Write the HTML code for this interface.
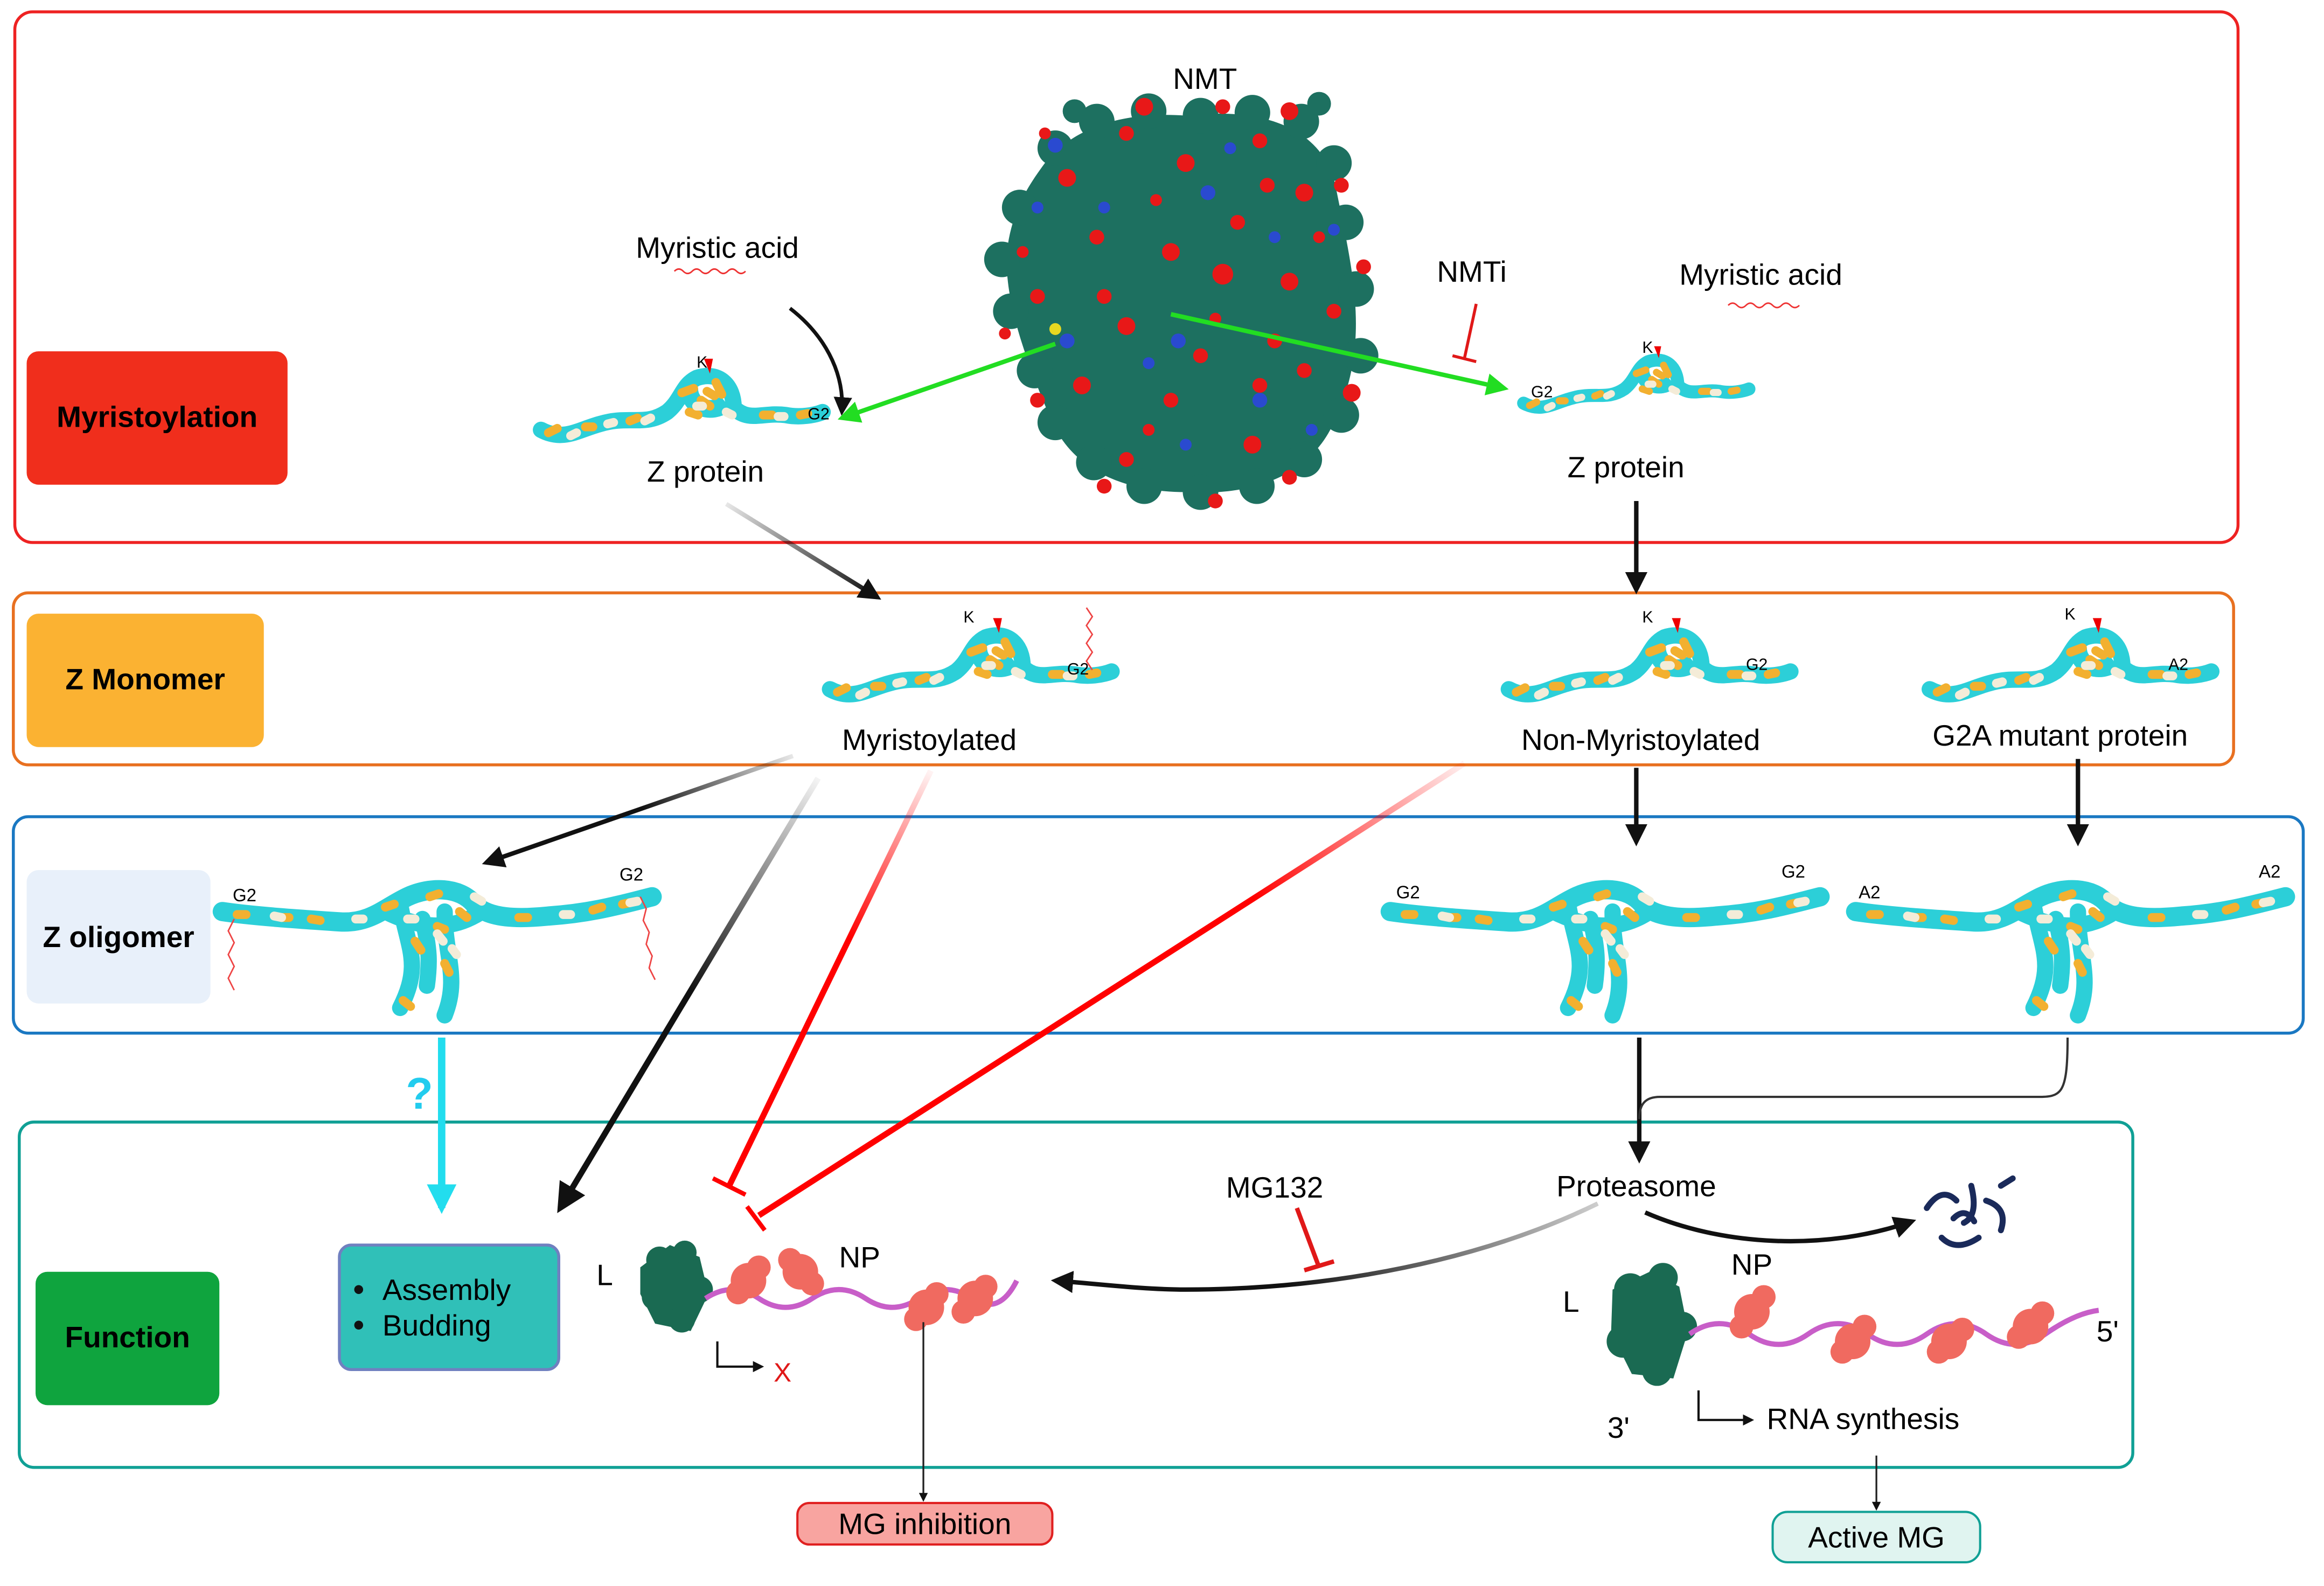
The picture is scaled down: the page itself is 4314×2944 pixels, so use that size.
<!DOCTYPE html>
<html><head><meta charset="utf-8"><style>
html,body{margin:0;padding:0;background:#fff;}
svg{display:block;font-family:"Liberation Sans",Arial,sans-serif;}
</style></head><body>
<svg width="4314" height="2944" viewBox="0 0 1568 1070" preserveAspectRatio="none" xmlns="http://www.w3.org/2000/svg">
<defs>
<marker id="ab" viewBox="0 0 10 10" refX="8" refY="5" markerWidth="5" markerHeight="5" orient="auto"><path d="M0,0L10,5L0,10z" fill="#111"/></marker>
<marker id="ag" viewBox="0 0 10 10" refX="8" refY="5" markerWidth="5" markerHeight="5" orient="auto"><path d="M0,0L10,5L0,10z" fill="#22dd22"/></marker>
<marker id="ac" viewBox="0 0 10 10" refX="8" refY="5" markerWidth="4" markerHeight="4" orient="auto"><path d="M0,0L10,5L0,10z" fill="#22ddee"/></marker>
<linearGradient id="g1" gradientUnits="userSpaceOnUse" x1="490" y1="340" x2="590" y2="400"><stop offset="0" stop-color="#111" stop-opacity="0.1"/><stop offset="1" stop-color="#111"/></linearGradient>
<linearGradient id="g2" gradientUnits="userSpaceOnUse" x1="550" y1="525" x2="380" y2="810"><stop offset="0" stop-color="#111" stop-opacity="0.05"/><stop offset="0.5" stop-color="#111"/></linearGradient>
<linearGradient id="g3" gradientUnits="userSpaceOnUse" x1="625" y1="520" x2="490" y2="800"><stop offset="0" stop-color="#f00" stop-opacity="0.05"/><stop offset="0.4" stop-color="#f00"/></linearGradient>
<linearGradient id="g4" gradientUnits="userSpaceOnUse" x1="990" y1="515" x2="510" y2="820"><stop offset="0" stop-color="#f00" stop-opacity="0.05"/><stop offset="0.3" stop-color="#f00"/></linearGradient>
<linearGradient id="g5" gradientUnits="userSpaceOnUse" x1="535" y1="510" x2="330" y2="580"><stop offset="0" stop-color="#111" stop-opacity="0.1"/><stop offset="0.5" stop-color="#111"/></linearGradient>
<linearGradient id="g6" gradientUnits="userSpaceOnUse" x1="1080" y1="810" x2="720" y2="866"><stop offset="0" stop-color="#111" stop-opacity="0.2"/><stop offset="0.6" stop-color="#111"/></linearGradient>
<g id="mono">
<path d="M0,40 C15,48 25,40 40,36 C60,30 70,38 85,28 C95,20 95,10 105,5 C120,0 130,10 130,25 C140,35 150,28 165,30 C175,32 185,30 190,28" fill="none" stroke="#2ccfd8" stroke-width="11" stroke-linecap="round"/>
<path d="M100,12 C100,25 115,30 125,22" fill="none" stroke="#2ccfd8" stroke-width="12"/>
<path d="M5,42 l6,-3 M30,38 l5,0 M95,15 l8,-3 M108,20 l6,4 M118,8 l4,8 M100,28 l6,2 M150,30 l6,0 M175,30 l5,-1 M112,14 l5,3 M60,34 l5,-2" stroke="#f2b030" stroke-width="6" stroke-linecap="round"/>
<path d="M20,44 l4,-2 M70,34 l4,-2 M125,28 l4,2 M160,31 l4,0 M105,24 l4,0 M45,36 l4,-1" stroke="#f4ecd8" stroke-width="6" stroke-linecap="round"/>
<path d="M110,-8 l6,0 l-2,10z" fill="#e00"/>
</g>
<g id="oligo">
<path d="M0,25 C20,28 50,30 80,32 C100,33 110,22 125,15 C140,8 160,8 170,20 C180,30 200,30 220,28 C250,26 270,20 290,15" fill="none" stroke="#2ccfd8" stroke-width="13" stroke-linecap="round"/>
<path d="M120,20 C125,50 135,60 120,90 M150,25 C150,55 160,70 150,95 M135,30 C140,50 140,60 138,75 M110,25 C140,40 160,35 175,25" fill="none" stroke="#2ccfd8" stroke-width="11" stroke-linecap="round"/>
<path d="M10,27 l6,0 M60,30 l6,1 M110,22 l6,-2 M140,15 l6,-2 M160,25 l5,4 M130,45 l4,6 M150,60 l3,6 M200,29 l6,0 M250,24 l6,-2 M122,85 l5,4 M40,29 l5,0 M270,20 l5,-1 M145,35 l5,2" stroke="#f2b030" stroke-width="6" stroke-linecap="round"/>
<path d="M35,28 l5,1 M90,30 l5,0 M170,15 l5,3 M145,40 l4,5 M230,27 l5,0 M275,19 l5,-1 M125,30 l5,0 M155,50 l3,4" stroke="#f4ecd8" stroke-width="6" stroke-linecap="round"/>
</g>
</defs>

<rect x="10" y="8" width="1500" height="358" rx="12" fill="none" stroke="#ee2222" stroke-width="2"/>
<rect x="9" y="400" width="1498" height="116" rx="10" fill="none" stroke="#e87020" stroke-width="2"/>
<rect x="9" y="551" width="1545" height="146" rx="10" fill="none" stroke="#1a78c2" stroke-width="2"/>
<rect x="13" y="757" width="1426" height="233" rx="10" fill="none" stroke="#10a095" stroke-width="2"/>

<rect x="18" y="237" width="176" height="90" rx="8" fill="#f02e1c"/>
<text x="106" y="288" font-size="20" font-weight="bold" text-anchor="middle">Myristoylation</text>
<rect x="18" y="414" width="160" height="90" rx="8" fill="#fbb232"/>
<text x="98" y="465" font-size="20" font-weight="bold" text-anchor="middle">Z Monomer</text>
<rect x="18" y="587" width="124" height="90" rx="8" fill="#e8f0fa"/>
<text x="80" y="639" font-size="20" font-weight="bold" text-anchor="middle">Z oligomer</text>
<rect x="24" y="858" width="124" height="90" rx="8" fill="#0fa43e"/>
<text x="86" y="909" font-size="20" font-weight="bold" text-anchor="middle">Function</text>

<!-- NMT blob -->
<g>
<path d="M705,110 C725,85 760,75 800,78 C850,72 895,85 902,130 C912,180 925,230 902,280 C888,318 850,335 800,332 C760,332 725,318 710,285 C695,250 675,200 680,165 C684,140 694,125 705,110z" fill="#1d7060"/>
<g fill="#1d7060">
<circle cx="712" cy="100" r="12"/><circle cx="740" cy="82" r="12"/><circle cx="775" cy="75" r="12"/><circle cx="810" cy="78" r="12"/><circle cx="845" cy="76" r="12"/><circle cx="878" cy="82" r="12"/><circle cx="900" cy="110" r="12"/><circle cx="908" cy="150" r="12"/><circle cx="915" cy="195" r="12"/><circle cx="918" cy="240" r="12"/><circle cx="905" cy="280" r="12"/><circle cx="880" cy="310" r="12"/><circle cx="848" cy="328" r="12"/><circle cx="810" cy="332" r="12"/><circle cx="772" cy="328" r="12"/><circle cx="738" cy="312" r="12"/><circle cx="712" cy="285" r="12"/><circle cx="698" cy="250" r="12"/><circle cx="682" cy="210" r="12"/><circle cx="676" cy="175" r="12"/><circle cx="688" cy="140" r="12"/><circle cx="725" cy="75" r="8"/><circle cx="890" cy="70" r="8"/>
</g>
<g fill="#e81818">
<circle cx="720" cy="120" r="6"/><circle cx="760" cy="90" r="5"/><circle cx="800" cy="110" r="6"/><circle cx="850" cy="95" r="5"/><circle cx="880" cy="130" r="6"/><circle cx="740" cy="160" r="5"/><circle cx="790" cy="170" r="6"/><circle cx="835" cy="150" r="5"/><circle cx="870" cy="190" r="6"/><circle cx="700" cy="200" r="5"/><circle cx="760" cy="220" r="6"/><circle cx="825" cy="185" r="7"/><circle cx="880" cy="250" r="5"/><circle cx="730" cy="260" r="6"/><circle cx="790" cy="270" r="5"/><circle cx="845" cy="300" r="6"/><circle cx="760" cy="310" r="5"/><circle cx="810" cy="240" r="5"/><circle cx="900" cy="210" r="5"/><circle cx="690" cy="170" r="4"/><circle cx="860" cy="230" r="5"/><circle cx="780" cy="135" r="4"/>
<circle cx="772" cy="72" r="6"/><circle cx="825" cy="72" r="5"/><circle cx="870" cy="75" r="6"/><circle cx="905" cy="125" r="5"/><circle cx="920" cy="180" r="5"/><circle cx="912" cy="265" r="6"/><circle cx="870" cy="322" r="5"/><circle cx="820" cy="338" r="5"/><circle cx="745" cy="328" r="5"/><circle cx="700" cy="270" r="5"/><circle cx="678" cy="225" r="4"/><circle cx="705" cy="90" r="4"/><circle cx="745" cy="200" r="5"/><circle cx="820" cy="215" r="4"/><circle cx="850" cy="260" r="5"/><circle cx="775" cy="290" r="4"/><circle cx="855" cy="125" r="5"/><circle cx="720" cy="230" r="4"/><circle cx="890" cy="160" r="4"/>
</g>
<g fill="#2a4ad0">
<circle cx="712" cy="98" r="5"/><circle cx="745" cy="140" r="4"/><circle cx="815" cy="130" r="5"/><circle cx="860" cy="160" r="4"/><circle cx="720" cy="230" r="5"/><circle cx="775" cy="245" r="4"/><circle cx="850" cy="270" r="5"/><circle cx="900" cy="155" r="4"/><circle cx="800" cy="300" r="4"/><circle cx="700" cy="140" r="4"/><circle cx="795" cy="230" r="5"/><circle cx="830" cy="100" r="4"/><circle cx="885" cy="290" r="4"/>
</g>
<circle cx="712" cy="222" r="4" fill="#e8d820"/>
</g>
<text x="813" y="60" font-size="20" text-anchor="middle">NMT</text>

<use href="#mono" x="365" y="250"/>
<text x="470" y="248" font-size="11">K</text><text x="545" y="283" font-size="11">G2</text>
<use href="#mono" transform="translate(1028,240) scale(0.8)"/>
<text x="1108" y="238" font-size="11">K</text><text x="1033" y="268" font-size="11">G2</text>
<text x="484" y="174" font-size="20" text-anchor="middle">Myristic acid</text>
<path d="M455,183 q3,-3 6,0 t6,0 t6,0 t6,0 t6,0 t6,0 t6,0 t6,0" fill="none" stroke="#ee3333" stroke-width="1"/>
<text x="1188" y="192" font-size="20" text-anchor="middle">Myristic acid</text>
<path d="M1166,206 q3,-3 6,0 t6,0 t6,0 t6,0 t6,0 t6,0 t6,0 t6,0" fill="none" stroke="#ee3333" stroke-width="1"/>
<text x="993" y="190" font-size="20" text-anchor="middle">NMTi</text>
<text x="476" y="325" font-size="20" text-anchor="middle">Z protein</text>
<text x="1097" y="322" font-size="20" text-anchor="middle">Z protein</text>

<path d="M533,208 C555,225 570,250 568,278" fill="none" stroke="#111" stroke-width="2.5" marker-end="url(#ab)"/>
<path d="M712,232 L568,282" stroke="#22dd22" stroke-width="3" marker-end="url(#ag)"/>
<path d="M790,212 L1015,262" stroke="#22dd22" stroke-width="3" marker-end="url(#ag)"/>
<path d="M996,205 L988,242 M980,240 L996,244" stroke="#e01818" stroke-width="2"/>

<path d="M490,340 L592,403" stroke="url(#g1)" stroke-width="3" marker-end="url(#ab)"/>
<path d="M1104,338 L1104,398" stroke="#111" stroke-width="3" marker-end="url(#ab)"/>

<use href="#mono" x="560" y="425"/>
<text x="650" y="420" font-size="11">K</text><text x="720" y="455" font-size="11">G2</text>
<path d="M733,410 l4,6 l-4,6 l4,6 l-4,6 l4,6 l-4,6 l4,6" fill="none" stroke="#ee4444" stroke-width="1"/>
<use href="#mono" x="1018" y="425"/>
<text x="1108" y="420" font-size="11">K</text><text x="1178" y="452" font-size="11">G2</text>
<use href="#mono" x="1302" y="425"/>
<text x="1393" y="418" font-size="11">K</text><text x="1463" y="452" font-size="11">A2</text>
<text x="627" y="506" font-size="20" text-anchor="middle">Myristoylated</text>
<text x="1107" y="506" font-size="20" text-anchor="middle">Non-Myristoylated</text>
<text x="1390" y="503" font-size="20" text-anchor="middle">G2A mutant protein</text>

<path d="M535,510 L328,582" stroke="url(#g5)" stroke-width="3" marker-end="url(#ab)"/>
<path d="M1104,518 L1104,568" stroke="#111" stroke-width="3" marker-end="url(#ab)"/>
<path d="M1402,512 L1402,568" stroke="#111" stroke-width="3" marker-end="url(#ab)"/>

<use href="#oligo" x="150" y="590"/>
<text x="157" y="608" font-size="12">G2</text><text x="418" y="594" font-size="12">G2</text>
<path d="M158,620 l-4,8 l4,8 l-4,8 l4,8 l-4,8 l4,8" fill="none" stroke="#ee4444" stroke-width="1"/>
<path d="M432,605 l4,8 l-2,8 l4,8 l-2,8 l4,8 l-2,8 l4,8" fill="none" stroke="#ee4444" stroke-width="1"/>
<use href="#oligo" x="938" y="590"/>
<text x="942" y="606" font-size="12">G2</text><text x="1202" y="592" font-size="12">G2</text>
<use href="#oligo" x="1252" y="590"/>
<text x="1254" y="606" font-size="12">A2</text><text x="1524" y="592" font-size="12">A2</text>

<path d="M552,525 L378,815" stroke="url(#g2)" stroke-width="4" marker-end="url(#ab)"/>
<path d="M628,520 L492,800" stroke="url(#g3)" stroke-width="4"/>
<path d="M481,795 L503,806" stroke="#f00" stroke-width="3"/>
<path d="M988,515 L512,820" stroke="url(#g4)" stroke-width="4"/>
<path d="M504,814 L516,830" stroke="#f00" stroke-width="3"/>

<path d="M298,700 L298,815" stroke="#22ddee" stroke-width="5" marker-end="url(#ac)"/>
<text x="283" y="748" font-size="30" font-weight="bold" fill="#22ccee" text-anchor="middle">?</text>

<path d="M1106,700 L1106,782" stroke="#111" stroke-width="3" marker-end="url(#ab)"/>
<path d="M1395,700 C1395,742 1390,740 1370,740 L1120,740 C1110,740 1106,745 1106,755" fill="none" stroke="#333" stroke-width="1.5"/>
<text x="1104" y="807" font-size="20" text-anchor="middle">Proteasome</text>
<text x="860" y="808" font-size="20" text-anchor="middle">MG132</text>
<path d="M1078,812 C1000,850 900,870 800,870 C770,870 740,866 712,864" fill="none" stroke="url(#g6)" stroke-width="3" marker-end="url(#ab)"/>
<path d="M875,815 L890,855 M880,857 L900,851" stroke="#e01818" stroke-width="3"/>
<path d="M1110,818 C1160,840 1230,845 1290,824" fill="none" stroke="#111" stroke-width="3" marker-end="url(#ab)"/>
<g fill="none" stroke="#1a2a5a" stroke-width="4" stroke-linecap="round">
<path d="M1300,815 q10,-15 20,-5"/><path d="M1330,800 q5,20 -5,25"/><path d="M1340,810 q15,5 10,20"/><path d="M1310,835 q10,10 25,0"/><path d="M1350,800 l8,-5"/><path d="M1318,822 q8,-8 14,2"/>
</g>

<rect x="229" y="840" width="148" height="84" rx="8" fill="#30c0b8" stroke="#7080c0" stroke-width="2"/>
<circle cx="242" cy="870" r="3" fill="#111"/><circle cx="242" cy="894" r="3" fill="#111"/>
<text x="258" y="877" font-size="20">Assembly</text>
<text x="258" y="901" font-size="20">Budding</text>

<text x="408" y="867" font-size="20" text-anchor="middle">L</text>
<g fill="#1a6a52"><path d="M432,855 l20,-15 l20,8 l6,25 l-12,25 l-24,-5 l-10,-20z"/><circle cx="445" cy="850" r="9"/><circle cx="462" cy="845" r="8"/><circle cx="472" cy="870" r="9"/><circle cx="442" cy="875" r="9"/><circle cx="460" cy="890" r="9"/></g>
<path d="M476,876 q18,-12 36,0 t36,0 t36,0 t36,0 t36,0 t30,-12" fill="none" stroke="#c85ec8" stroke-width="3.5"/>
<g fill="#f06a60"><circle cx="505" cy="864" r="12"/><circle cx="540" cy="858" r="12"/><circle cx="625" cy="882" r="12"/><circle cx="658" cy="876" r="12"/><circle cx="498" cy="872" r="8"/><circle cx="512" cy="855" r="8"/><circle cx="533" cy="850" r="8"/><circle cx="548" cy="866" r="8"/><circle cx="618" cy="890" r="8"/><circle cx="632" cy="873" r="8"/><circle cx="650" cy="885" r="8"/><circle cx="665" cy="868" r="8"/></g>
<text x="580" y="855" font-size="20" text-anchor="middle">NP</text>
<path d="M484,905 L484,922 L514,922" fill="none" stroke="#111" stroke-width="1.5" marker-end="url(#ab)"/>
<text x="528" y="932" font-size="18" fill="#e01818" text-anchor="middle">X</text>
<path d="M623,892 L623,1012" stroke="#222" stroke-width="1.2" marker-end="url(#ab)"/>
<rect x="538" y="1014" width="172" height="28" rx="8" fill="#f8a4a0" stroke="#e02020" stroke-width="1.5"/>
<text x="624" y="1035" font-size="20" text-anchor="middle">MG inhibition</text>

<text x="1060" y="885" font-size="20" text-anchor="middle">L</text>
<g fill="#1a6a52"><path d="M1088,870 l25,-12 l20,10 l6,30 l-10,32 l-28,-3 l-14,-28z"/><circle cx="1100" cy="870" r="11"/><circle cx="1122" cy="862" r="10"/><circle cx="1135" cy="895" r="10"/><circle cx="1095" cy="905" r="11"/><circle cx="1118" cy="925" r="10"/></g>
<path d="M1140,900 q20,-14 40,0 t40,0 t40,0 t40,0 t40,0 t40,0 t36,-16" fill="none" stroke="#c85ec8" stroke-width="3.5"/>
<g fill="#f06a60"><circle cx="1182" cy="885" r="12"/><circle cx="1250" cy="905" r="12"/><circle cx="1315" cy="905" r="12"/><circle cx="1370" cy="895" r="12"/><circle cx="1175" cy="895" r="8"/><circle cx="1190" cy="875" r="8"/><circle cx="1243" cy="912" r="8"/><circle cx="1258" cy="895" r="8"/><circle cx="1308" cy="912" r="8"/><circle cx="1324" cy="897" r="8"/><circle cx="1362" cy="902" r="8"/><circle cx="1378" cy="886" r="8"/></g>
<text x="1182" y="860" font-size="20" text-anchor="middle">NP</text>
<text x="1422" y="905" font-size="20" text-anchor="middle">5'</text>
<text x="1092" y="970" font-size="20" text-anchor="middle">3'</text>
<path d="M1146,938 L1146,958 L1182,958" fill="none" stroke="#111" stroke-width="1.5" marker-end="url(#ab)"/>
<text x="1192" y="964" font-size="20">RNA synthesis</text>
<path d="M1266,982 L1266,1018" stroke="#222" stroke-width="1.2" marker-end="url(#ab)"/>
<rect x="1196" y="1020" width="140" height="34" rx="10" fill="#e0f4f0" stroke="#10a095" stroke-width="1.5"/>
<text x="1266" y="1044" font-size="20" text-anchor="middle">Active MG</text>
</svg>
</body></html>
